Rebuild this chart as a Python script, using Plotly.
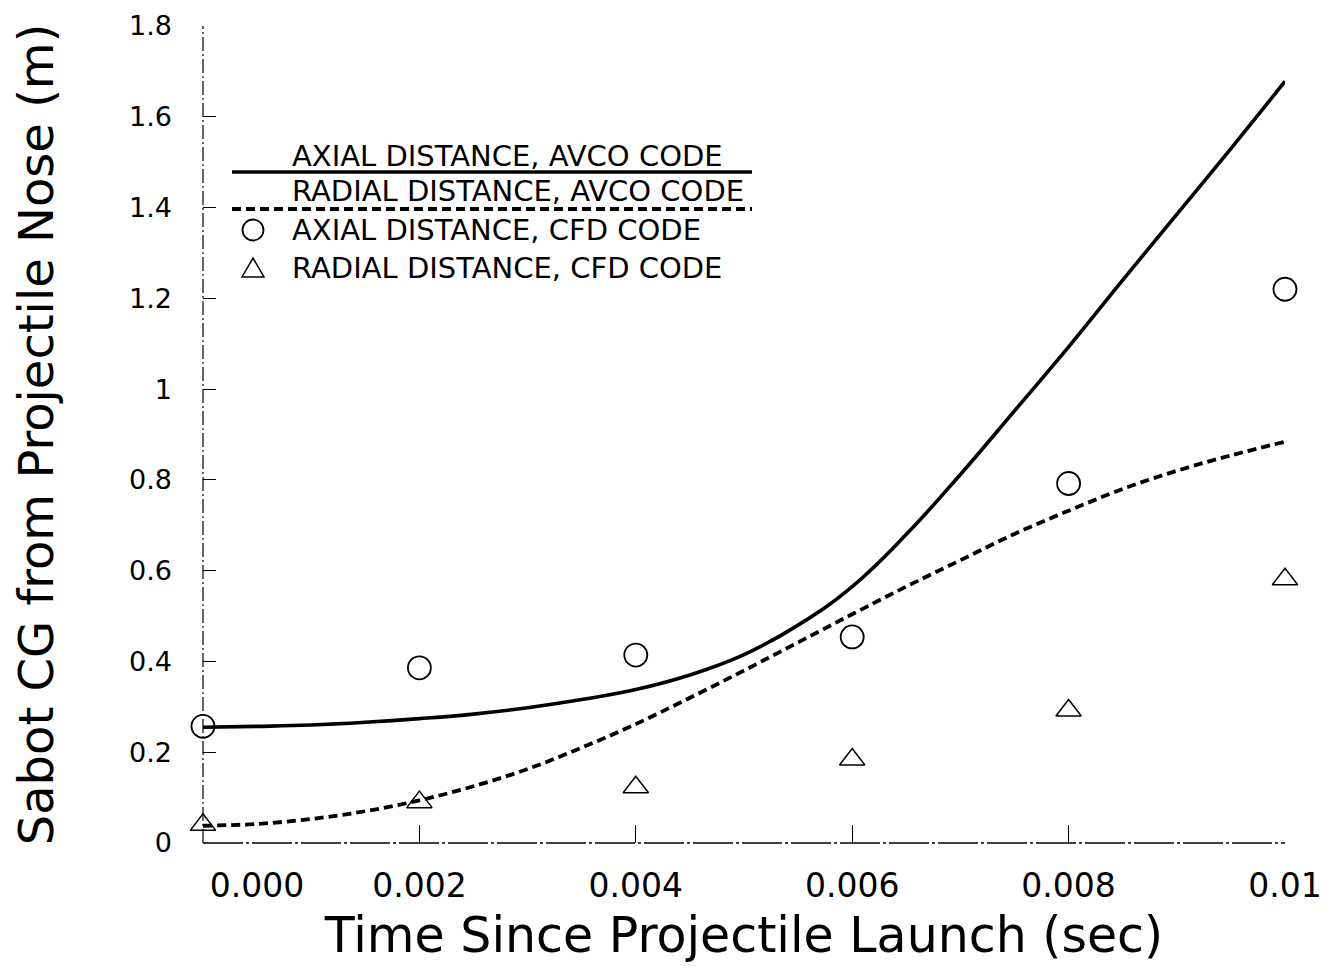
import plotly.graph_objects as go

# ---- data ----
t_curve = [0.0, 0.0005, 0.001, 0.0015, 0.002, 0.0025, 0.003, 0.0035, 0.004, 0.0045,
           0.005, 0.0055, 0.006, 0.0065, 0.007, 0.0075, 0.008, 0.0085, 0.009, 0.0095, 0.010]
axial_avco = [0.255, 0.257, 0.260, 0.266, 0.274, 0.284, 0.298, 0.316, 0.338, 0.370,
              0.415, 0.480, 0.565, 0.680, 0.812, 0.952, 1.093, 1.240, 1.385, 1.530, 1.678]
radial_avco = [0.038, 0.042, 0.053, 0.070, 0.094, 0.125, 0.163, 0.210, 0.262, 0.320,
               0.380, 0.442, 0.504, 0.565, 0.623, 0.681, 0.732, 0.780, 0.820, 0.854, 0.884]

t_cfd = [0.0, 0.002, 0.004, 0.006, 0.008, 0.010]
axial_cfd = [0.257, 0.386, 0.414, 0.454, 0.792, 1.22]
radial_cfd = [0.04, 0.09, 0.123, 0.184, 0.292, 0.581]

x_tick_vals = [0.002, 0.004, 0.006, 0.008, 0.010]
x_tick_text = ["0.002", "0.004", "0.006", "0.008", "0.01"]
x_first_label = "0.000"
y_tick_vals = [0, 0.2, 0.4, 0.6, 0.8, 1.0, 1.2, 1.4, 1.6, 1.8]
y_tick_text = ["0", "0.2", "0.4", "0.6", "0.8", "1", "1.2", "1.4", "1.6", "1.8"]

legend_labels = ["AXIAL DISTANCE, AVCO CODE", "RADIAL DISTANCE, AVCO CODE",
                 "AXIAL DISTANCE, CFD CODE", "RADIAL DISTANCE, CFD CODE"]

x_title = "Time Since Projectile Launch (sec)"
y_title = "Sabot CG from Projectile Nose (m)"

# ---- layout geometry (page body has an 8px margin) ----
OFF = 8
W, H = 1324, 956
PL, PT, PW, PH = 203, 26, 1082, 817          # plot area in screen pixels
L, T = PL - OFF, PT - OFF
R = W - L - PW
B = H - T - PH

def px(xs):
    return (xs - PL) / PW

def py(ys):
    return (PT + PH - ys) / PH

XTICKFONT = dict(family="DejaVu Sans", size=33, color="black")
YTICKFONT = dict(family="DejaVu Sans", size=27, color="black")
TITLEFAM = "DejaVu Sans, sans-serif"

fig = go.Figure()

fig.add_trace(go.Scatter(x=t_curve, y=axial_avco, mode="lines",
                         line=dict(color="black", width=3.6, shape="spline", smoothing=1.2),
                         showlegend=False, cliponaxis=False))
fig.add_trace(go.Scatter(x=t_curve, y=radial_avco, mode="lines",
                         line=dict(color="black", width=3.8, dash="9px,5px", shape="spline",
                                   smoothing=1.0),
                         showlegend=False, cliponaxis=False))
fig.add_trace(go.Scatter(x=t_cfd, y=axial_cfd, mode="markers",
                         marker=dict(symbol="circle-open", size=23, color="black",
                                     line=dict(width=1.8, color="black")),
                         showlegend=False, cliponaxis=False))
fig.add_trace(go.Scatter(x=t_cfd, y=radial_cfd, mode="markers",
                         marker=dict(symbol="triangle-up-open", size=22, color="black",
                                     line=dict(width=1.5, color="black")),
                         showlegend=False, cliponaxis=False))
# invisible trace to activate the label-only overlay axis
fig.add_trace(go.Scatter(x=[0.0], y=[0.0], xaxis="x2", mode="markers",
                         marker=dict(opacity=0), showlegend=False, hoverinfo="skip"))

fig.update_layout(
    width=W, height=H,
    margin=dict(l=L, r=R, t=T, b=B),
    paper_bgcolor="white", plot_bgcolor="white",
    xaxis=dict(range=[0, 0.010], tickvals=x_tick_vals, ticktext=x_tick_text,
               ticks="inside", ticklen=18, tickwidth=1, tickcolor="black",
               showgrid=False, zeroline=False, showline=False, automargin=False,
               tickfont=XTICKFONT, ticklabelstandoff=20, ticklabeloverflow="allow",
               title=dict(text=x_title, font=dict(family=TITLEFAM, size=49, color="black"),
                          standoff=22)),
    xaxis2=dict(range=[0, 0.010], overlaying="x", anchor="y", side="bottom",
                tickvals=[0.0005], ticktext=[x_first_label], ticks="",
                showgrid=False, zeroline=False, showline=False, automargin=False,
                tickfont=XTICKFONT, ticklabelstandoff=20, ticklabeloverflow="allow"),
    yaxis=dict(range=[0, 1.8], tickvals=y_tick_vals, ticktext=y_tick_text,
               ticks="inside", ticklen=13, tickwidth=1, tickcolor="black",
               showgrid=False, zeroline=False, showline=False, automargin=False,
               tickfont=YTICKFONT, ticklabelstandoff=30, ticklabeloverflow="allow",
               title=dict(text=y_title, font=dict(family=TITLEFAM, size=48, color="black"),
                          standoff=64)),
)

# axis lines (dash-dot like the reference)
fig.add_shape(type="line", xref="paper", yref="paper", x0=0, x1=0, y0=0, y1=1,
              line=dict(color="black", width=1.2, dash="14px,3px,2px,3px"))
fig.add_shape(type="line", xref="paper", yref="paper", x0=0, x1=1, y0=0, y1=0,
              line=dict(color="black", width=1.4, dash="40px,3px,3px,3px"))

# legend
LX0, LX1 = px(232), px(752)
fig.add_shape(type="line", xref="paper", yref="paper", x0=LX0, x1=LX1, y0=py(172), y1=py(172),
              line=dict(color="black", width=3.6))
fig.add_shape(type="line", xref="paper", yref="paper", x0=LX0, x1=LX1, y0=py(209), y1=py(209),
              line=dict(color="black", width=3.8, dash="9px,5px"))
r = 10.5
fig.add_shape(type="circle", xref="paper", yref="paper",
              x0=px(253 - r), x1=px(253 + r), y0=py(230 + r), y1=py(230 - r),
              line=dict(color="black", width=1.8))
tri = "M {:.5f},{:.5f} L {:.5f},{:.5f} L {:.5f},{:.5f} Z".format(
    px(253), py(258), px(242), py(277), px(264), py(277))
fig.add_shape(type="path", xref="paper", yref="paper", path=tri,
              line=dict(color="black", width=1.5))

LEGFONT = dict(family="DejaVu Sans", size=29, color="black")
legend_pos = [(290, 156), (290, 191), (290, 230), (290, 268)]
for label, (lx, ly) in zip(legend_labels, legend_pos):
    fig.add_annotation(text=label, xref="paper", yref="paper", x=px(lx), y=py(ly),
                       xanchor="left", yanchor="middle", showarrow=False, font=LEGFONT)

fig.write_html("out.html")
